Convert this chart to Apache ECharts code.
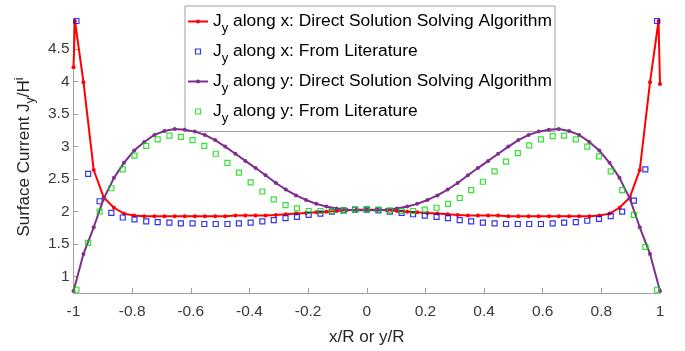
<!DOCTYPE html>
<html>
<head>
<meta charset="utf-8">
<script src="https://cdn.jsdelivr.net/npm/echarts@6/dist/echarts.min.js"></script>
<style>html,body{margin:0;padding:0;background:#fff;}#c{width:685px;height:351px;}</style>
</head>
<body>
<div id="c"></div>
<script>
// x positions of the direct-solution samples
const xDirect = [-1, -0.966, -0.931, -0.897, -0.862, -0.828, -0.793, -0.759, -0.724, -0.690, -0.655, -0.621, -0.586, -0.552, -0.517, -0.483, -0.448, -0.414, -0.379, -0.345, -0.310, -0.276, -0.241, -0.207, -0.172, -0.138, -0.103, -0.069, -0.034, 0, 0.034, 0.069, 0.103, 0.138, 0.172, 0.207, 0.241, 0.276, 0.310, 0.345, 0.379, 0.414, 0.448, 0.483, 0.517, 0.552, 0.586, 0.621, 0.655, 0.690, 0.724, 0.759, 0.793, 0.828, 0.862, 0.897, 0.931, 0.966, 1];
// Jy along x, direct solution (own x list: includes edge points)
const xRed = [-1, -0.995, -0.966, -0.931, -0.897, -0.862, -0.828, -0.793, -0.759, -0.724, -0.690, -0.655, -0.621, -0.586, -0.552, -0.517, -0.483, -0.448, -0.414, -0.379, -0.345, -0.310, -0.276, -0.241, -0.207, -0.172, -0.138, -0.103, -0.069, -0.034, 0, 0.034, 0.069, 0.103, 0.138, 0.172, 0.207, 0.241, 0.276, 0.310, 0.345, 0.379, 0.414, 0.448, 0.483, 0.517, 0.552, 0.586, 0.621, 0.655, 0.690, 0.724, 0.759, 0.793, 0.828, 0.862, 0.897, 0.931, 0.966, 0.995, 1];
const yRed = [4.22, 4.93, 3.99, 2.64, 2.22, 2.06, 1.97, 1.94, 1.93, 1.93, 1.93, 1.93, 1.93, 1.93, 1.93, 1.93, 1.93, 1.94, 1.94, 1.94, 1.94, 1.95, 1.96, 1.97, 1.98, 1.99, 2.00, 2.01, 2.02, 2.03, 2.03,
  2.03, 2.02, 2.01, 2.00, 1.99, 1.98, 1.97, 1.96, 1.95, 1.94, 1.94, 1.94, 1.94, 1.93, 1.93, 1.93, 1.93, 1.93, 1.93, 1.93, 1.93, 1.93, 1.94, 1.97, 2.06, 2.22, 2.64, 3.99, 4.93, 3.96];
// Jy along y, direct solution
const yPurple = [0.78, 1.35, 1.76, 2.20, 2.52, 2.75, 2.94, 3.07, 3.18, 3.24, 3.27, 3.26, 3.23, 3.18, 3.10, 3.00, 2.89, 2.78, 2.67, 2.56, 2.44, 2.34, 2.25, 2.18, 2.12, 2.08, 2.05, 2.03, 2.02, 2.02,
  2.02, 2.03, 2.05, 2.08, 2.12, 2.18, 2.25, 2.34, 2.44, 2.56, 2.67, 2.78, 2.89, 3.00, 3.10, 3.18, 3.23, 3.26, 3.27, 3.24, 3.18, 3.07, 2.94, 2.75, 2.52, 2.20, 1.76, 1.35, 0.78];
// literature sample positions
const xLit = [-0.990, -0.950, -0.911, -0.871, -0.832, -0.792, -0.752, -0.713, -0.673, -0.634, -0.594, -0.554, -0.515, -0.475, -0.436, -0.396, -0.356, -0.317, -0.277, -0.238, -0.198, -0.158, -0.119, -0.079, -0.040, 0,
  0.040, 0.079, 0.119, 0.158, 0.198, 0.238, 0.277, 0.317, 0.356, 0.396, 0.436, 0.475, 0.515, 0.554, 0.594, 0.634, 0.673, 0.713, 0.752, 0.792, 0.832, 0.871, 0.911, 0.950, 0.990];
const yBlue = [4.93, 2.58, 2.16, 1.98, 1.91, 1.88, 1.85, 1.84, 1.83, 1.82, 1.82, 1.81, 1.81, 1.81, 1.82, 1.83, 1.85, 1.87, 1.90, 1.92, 1.95, 1.97, 2.00, 2.02, 2.03, 2.03,
  2.02, 2.00, 1.98, 1.96, 1.94, 1.92, 1.90, 1.87, 1.85, 1.83, 1.82, 1.81, 1.81, 1.81, 1.81, 1.82, 1.83, 1.84, 1.86, 1.89, 1.93, 2.00, 2.17, 2.65, 4.93];
const yGreen = [0.80, 1.52, 2.00, 2.36, 2.65, 2.86, 3.01, 3.11, 3.17, 3.15, 3.10, 3.01, 2.89, 2.75, 2.60, 2.45, 2.31, 2.19, 2.10, 2.05, 2.01, 2.01, 2.01, 2.02, 2.03, 2.04,
  2.03, 2.02, 2.01, 2.01, 2.03, 2.06, 2.12, 2.21, 2.33, 2.46, 2.62, 2.77, 2.90, 3.02, 3.11, 3.16, 3.17, 3.11, 3.00, 2.85, 2.62, 2.33, 1.95, 1.46, 0.80];
const yTicks = [1, 1.5, 2, 2.5, 3, 3.5, 4, 4.5];
const seriesNames = ['Jy along x: Direct Solution Solving Algorithm', 'Jy along x: From Literature', 'Jy along y: Direct Solution Solving Algorithm', 'Jy along y: From Literature'];
const legendTexts = [' along x: Direct Solution Solving Algorithm', ' along x: From Literature', ' along y: Direct Solution Solving Algorithm', ' along y: From Literature'];

const zip = (xs, ys) => xs.map((x, i) => [x, ys[i]]);
const FONT = '"Liberation Sans", Arial, sans-serif';
const RED = '#ff0000', BLUE = '#0000f0', PURPLE = '#7e2f8e', GREEN = '#00dc00';
const SQUARE = 'path://M0 0H10V10H0Z';

const chart = echarts.init(document.getElementById('c'), null, {renderer: 'canvas'});
chart.setOption({
  animation: false,
  backgroundColor: '#fff',
  textStyle: {fontFamily: FONT},
  grid: {left: 73.5, right: 25, top: 21, bottom: 50},
  legend: {
    orient: 'vertical',
    left: 185, top: 6,
    padding: [7, 3, 7, 2],
    itemGap: 8.5,
    itemWidth: 20, itemHeight: 5,
    symbolKeepAspect: true,
    borderColor: '#a0a0a0', borderWidth: 1,
    backgroundColor: '#fff',
    selectedMode: false,
    data: [
      {name: seriesNames[0]},
      {name: seriesNames[1], icon: SQUARE, itemStyle: {color: 'rgba(0,0,0,0)', borderColor: BLUE, borderWidth: 1.2}},
      {name: seriesNames[2]},
      {name: seriesNames[3], icon: SQUARE, itemStyle: {color: 'rgba(0,0,0,0)', borderColor: GREEN, borderWidth: 1.2}}
    ],
    formatter: function (name) {
      const i = seriesNames.indexOf(name);
      return '{m|J}{s|y}{m|' + legendTexts[i] + '}';
    },
    textStyle: {
      color: '#000',
      fontFamily: FONT,
      rich: {
        m: {fontSize: 17.4, lineHeight: 26, verticalAlign: 'middle', fontFamily: FONT, color: '#000'},
        s: {fontSize: 13, lineHeight: 12, verticalAlign: 'bottom', fontFamily: FONT, color: '#000'}
      }
    }
  },
  xAxis: {
    type: 'value', min: -1, max: 1, interval: 0.2,
    name: 'x/R or y/R', nameLocation: 'middle', nameGap: 36,
    nameTextStyle: {fontSize: 17, color: '#262626', fontFamily: FONT},
    axisLine: {show: true, onZero: false, lineStyle: {color: '#a0a0a0', width: 1}},
    axisTick: {show: true, inside: true, length: 5, lineStyle: {color: '#a0a0a0'}},
    axisLabel: {fontSize: 15.5, color: '#3a3a3a', margin: 11, fontFamily: FONT,
      formatter: v => String(Math.round(v * 10) / 10)},
    splitLine: {show: false}
  },
  yAxis: {
    type: 'value', min: 0.75, max: 4.93,
    name: '{m|Surface Current J}{s|y}{m|/H}{p|i}', nameLocation: 'middle', nameGap: 27,
    nameTextStyle: {
      fontSize: 17, color: '#262626', fontFamily: FONT,
      rich: {
        m: {fontSize: 17, lineHeight: 26, verticalAlign: 'middle', color: '#262626', fontFamily: FONT},
        s: {fontSize: 12.5, lineHeight: 12, verticalAlign: 'bottom', color: '#262626', fontFamily: FONT},
        p: {fontSize: 12.5, lineHeight: 12, verticalAlign: 'top', padding: [2, 0, 0, 0], color: '#262626', fontFamily: FONT}
      }
    },
    axisLine: {show: true, onZero: false, lineStyle: {color: '#a0a0a0', width: 1}},
    axisTick: {show: true, inside: true, length: 5, customValues: yTicks, lineStyle: {color: '#a0a0a0'}},
    axisLabel: {fontSize: 15.5, color: '#3a3a3a', margin: 4, fontFamily: FONT, customValues: yTicks},
    splitLine: {show: false}
  },
  series: [
    {
      name: seriesNames[0], type: 'line', data: zip(xRed, yRed),
      symbol: 'circle', symbolSize: 4, showSymbol: true,
      lineStyle: {color: RED, width: 2}, itemStyle: {color: RED}, z: 2
    },
    {
      name: seriesNames[1], type: 'scatter', data: zip(xLit, yBlue),
      symbol: 'rect', symbolSize: 5,
      itemStyle: {color: 'rgba(0,0,0,0)', borderColor: BLUE, borderWidth: 1.2}, z: 3
    },
    {
      name: seriesNames[2], type: 'line', data: zip(xDirect, yPurple),
      symbol: 'circle', symbolSize: 4, showSymbol: true,
      lineStyle: {color: PURPLE, width: 2}, itemStyle: {color: PURPLE}, z: 4
    },
    {
      name: seriesNames[3], type: 'scatter', data: zip(xLit, yGreen),
      symbol: 'rect', symbolSize: 5,
      itemStyle: {color: 'rgba(0,0,0,0)', borderColor: GREEN, borderWidth: 1.2}, z: 5
    }
  ]
});
</script>
</body>
</html>
